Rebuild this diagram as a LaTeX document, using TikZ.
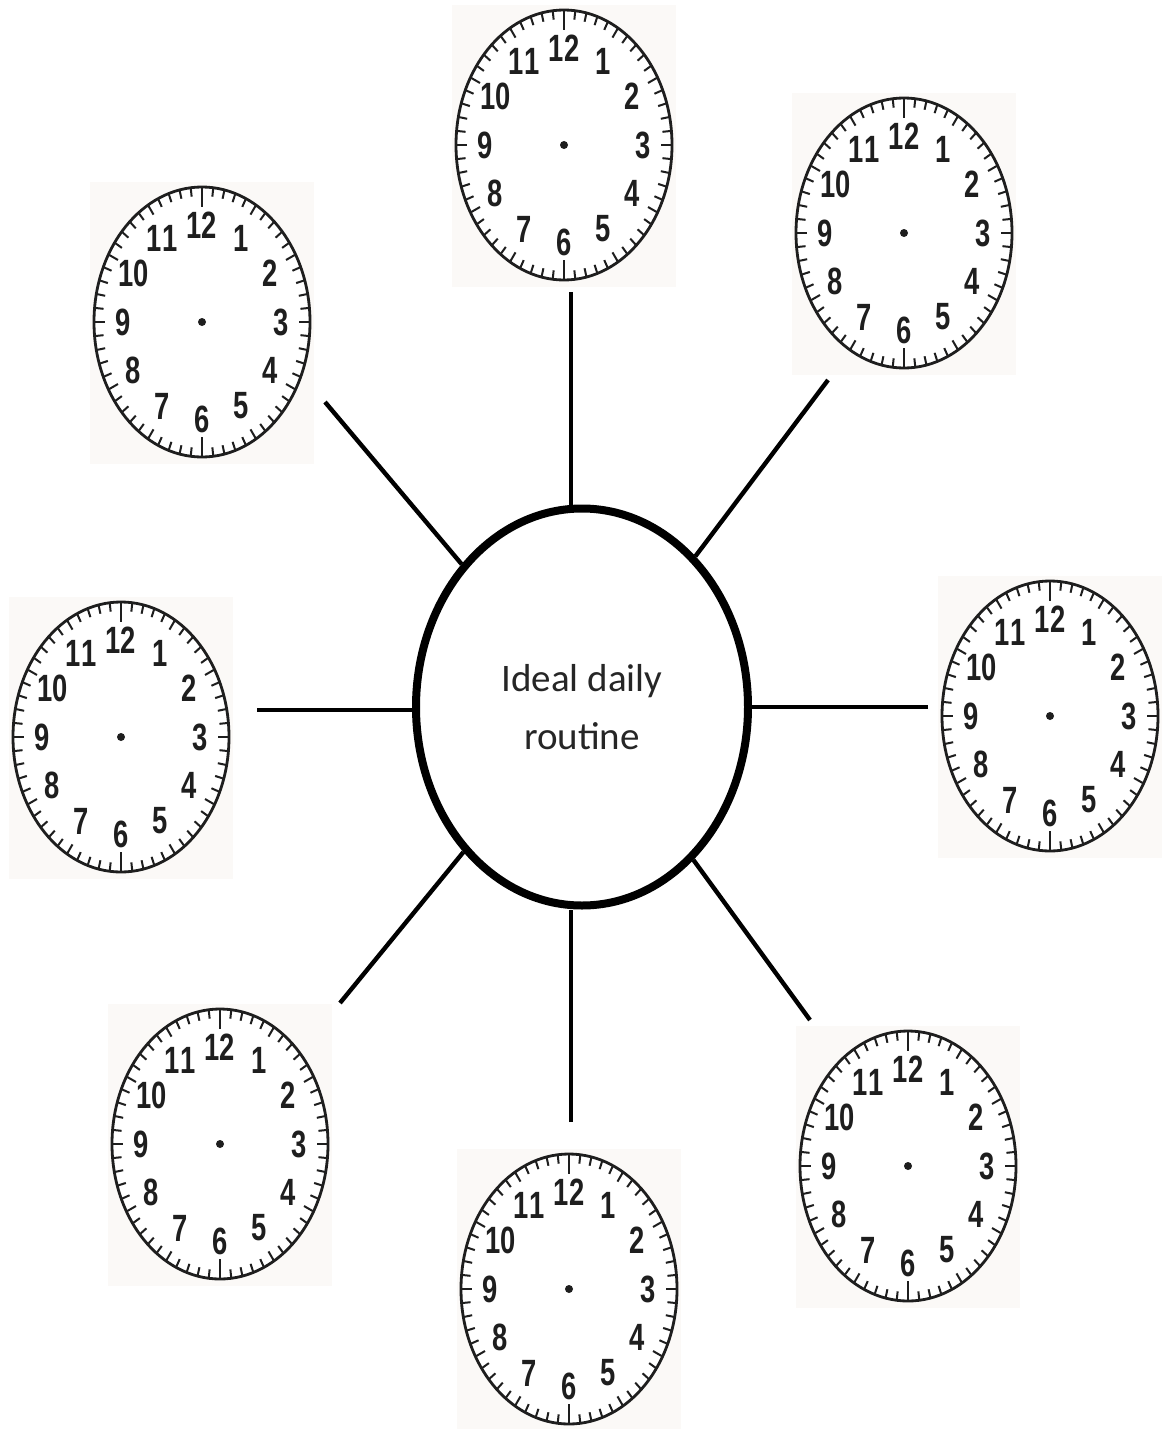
\documentclass[tikz,border=0pt]{standalone}
\usepackage{fontspec}
\setmainfont{Carlito}
\newfontfamily\clockfont[Ligatures=NoCommon]{Liberation Sans}
\usetikzlibrary{shapes.geometric}
\definecolor{bgtint}{RGB}{251,249,247}
\definecolor{ink}{RGB}{30,30,30}
\tikzset{
  spoke/.style={line width=2.2pt, black},
  hub/.style={ellipse, draw=black, line width=4pt, fill=white, minimum width=166pt, minimum height=198.5pt, inner sep=0pt, align=center, text=black!85, font=\fontsize{19.5}{29}\selectfont},
  clocknum/.style={font=\clockfont\bfseries\fontsize{19}{19}\selectfont, text=ink, inner sep=0pt, xscale=0.72},
  clockface/.pic={
    \fill[bgtint] (-112,-140) rectangle (112,142);
    \draw[ink, line width=1.4pt, fill=white] (0,0) ellipse [x radius=108, y radius=135];
    \foreach \k in {0,...,59}{
      \pgfmathsetmacro{\a}{90-6*\k}
      \pgfmathsetmacro{\L}{ifthenelse(mod(\k,30)==0,20,ifthenelse(mod(\k,5)==0,11,9))}
      \draw[ink, line width=1pt] ({108*cos(\a)},{-135*sin(\a)}) -- ({(108-\L)*cos(\a)},{-(135-\L)*sin(\a)});
    }
    \foreach \n in {1,...,12}{
      \pgfmathsetmacro{\b}{90-30*\n}
      \node[clocknum] (-n\n) at ({79*cos(\b)},{-97*sin(\b)}) {\ifnum\n=11 1\kern0.03em1\else\n\fi};
    }
    \fill[ink] (0,0) circle [radius=4];
  }
}
\begin{document}
\begin{tikzpicture}[x=0.5pt, y=-0.5pt]
\useasboundingbox[fill=white] (0,0) rectangle (1168,1429);

\pic (k1) at (564,145) {clockface};
\pic (k2) at (904,233) {clockface};
\pic (k3) at (202,322) {clockface};
\pic (k4) at (121,737) {clockface};
\pic (k5) at (1050,716) {clockface};
\pic (k6) at (220,1144) {clockface};
\pic (k7) at (569,1289) {clockface};
\pic (k8) at (908,1166) {clockface};

\node[hub] (c) at (582,707) {Ideal daily\\routine};

\coordinate (o1) at (571,292);
\coordinate (o2) at (828,380);
\coordinate (o3) at (325,402);
\coordinate (o4) at (257,710);
\coordinate (o5) at (928,707);
\coordinate (o6) at (340,1003);
\coordinate (o7) at (571,1122);
\coordinate (o8) at (810,1020);

\draw[spoke] (o1) -- (o1 |- c.north);
\draw[spoke] (o2) -- (c);
\draw[spoke] (o3) -- (c);
\draw[spoke] (o4) -- (o4 -| c.west);
\draw[spoke] (o5) -- (o5 -| c.east);
\draw[spoke] (o6) -- (c);
\draw[spoke] (o7) -- (o7 |- c.south);
\draw[spoke] (o8) -- (c);
\end{tikzpicture}
\end{document}
